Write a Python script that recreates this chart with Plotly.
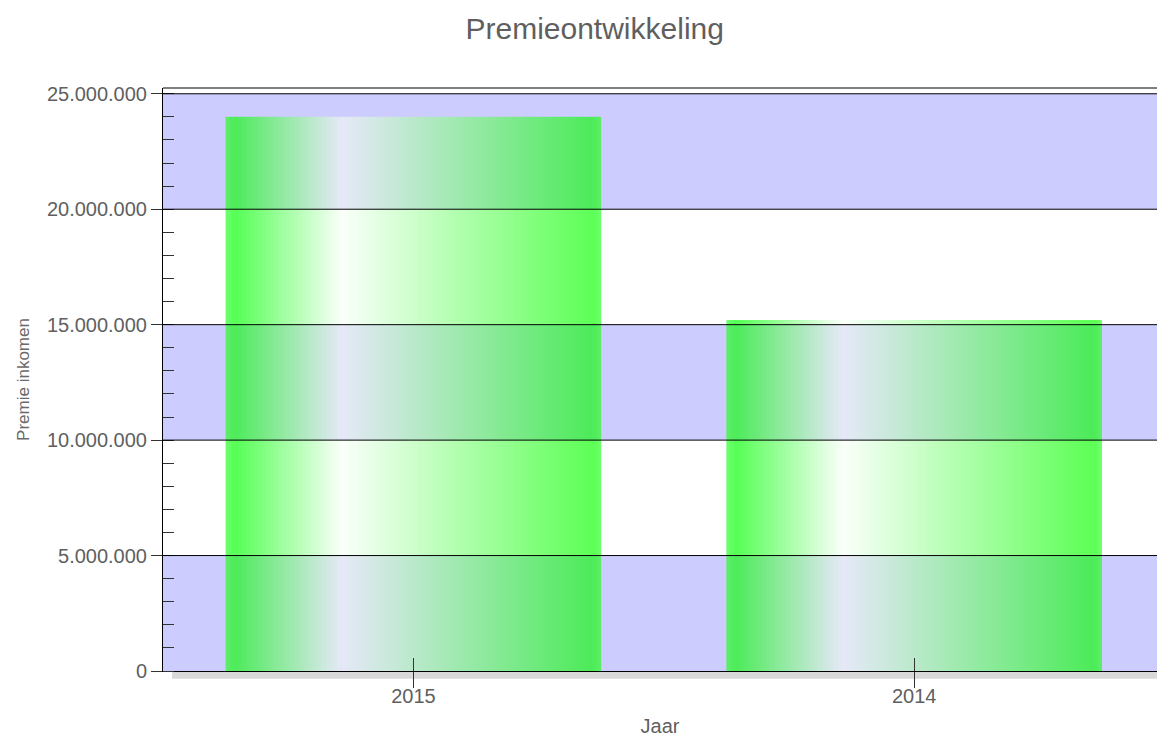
import plotly.graph_objects as go

# ---- data ----
years = ["2015", "2014"]
premie = [24000000, 15200000]
y_ticks = [0, 5000000, 10000000, 15000000, 20000000, 25000000]
y_tick_labels = ["0", "5.000.000", "10.000.000", "15.000.000", "20.000.000", "25.000.000"]

title_text = "Premieontwikkeling"
x_title = "Jaar"
y_title = "Premie inkomen"

# ---- style ----
FONT = "Liberation Sans, Arial, sans-serif"
TXT = "#5f5f5f"
BAND = "#ccccff"
Y_TOP = 25250000
BAR_W = 0.75
N_SLICES = 94
# gradient stops (position, r, g, b) as seen over a white band and over a blue band
stops_white = [(0.00, 110, 255, 110), (0.025, 85, 255, 85), (0.31, 250, 255, 250),
               (0.98, 92, 255, 85), (1.00, 110, 255, 110)]
stops_blue = [(0.00, 95, 238, 105), (0.025, 77, 235, 90), (0.31, 230, 232, 248),
              (0.98, 75, 235, 88), (1.00, 95, 238, 105)]


def grad(stops, t):
    for (p0, *c0), (p1, *c1) in zip(stops[:-1], stops[1:]):
        if p0 <= t <= p1:
            f = (t - p0) / (p1 - p0) if p1 > p0 else 0
            c = [a + (b - a) * f for a, b in zip(c0, c1)]
            return "rgb(%d,%d,%d)" % tuple(round(v) for v in c)
    return "rgb(77,235,90)"


# band segments for each bar (base, length, is_blue)
band_edges = y_ticks + [Y_TOP]
seg_x, seg_base, seg_len, seg_blue = [], [], [], []
for yr, v in zip(years, premie):
    for k, (lo, hi) in enumerate(zip(band_edges[:-1], band_edges[1:])):
        if lo < v:
            seg_x.append(yr)
            seg_base.append(lo)
            seg_len.append(min(v, hi) - lo)
            seg_blue.append(k % 2 == 0 and hi <= y_ticks[-1])

fig = go.Figure()
sw = BAR_W / N_SLICES
for i in range(N_SLICES):
    t = (i + 0.5) / N_SLICES
    cols = [grad(stops_blue if b else stops_white, t) for b in seg_blue]
    w = sw * 1.7 if i < N_SLICES - 1 else sw
    fig.add_trace(go.Bar(
        x=seg_x, y=seg_len, base=seg_base,
        width=w, offset=-BAR_W / 2 + i * sw,
        marker=dict(color=cols, line=dict(width=0)),
        showlegend=False, hoverinfo="skip",
    ))

# dummy trace for the overlay axis (inside tick marks)
fig.add_trace(go.Scatter(x=years, y=[None, None], xaxis="x2", showlegend=False,
                         hoverinfo="skip", mode="markers"))

shapes = []
# alternating bands
for k, (lo, hi) in enumerate(zip(y_ticks[:-1], y_ticks[1:])):
    if k % 2 == 0:
        shapes.append(dict(type="rect", xref="paper", yref="y", x0=0, x1=1, y0=lo, y1=hi,
                           fillcolor=BAND, line=dict(width=0), layer="below"))
# grid lines above bars
for v in y_ticks[1:]:
    shapes.append(dict(type="line", xref="paper", yref="y", x0=0, x1=1, y0=v, y1=v,
                       line=dict(color="black", width=1), layer="above"))
# top border
shapes.append(dict(type="line", xref="paper", yref="paper", x0=0, x1=1, y0=1, y1=1,
                   line=dict(color="black", width=1), layer="above"))
# shadow under x axis
shapes.append(dict(type="rect", xref="paper", yref="paper", x0=0.009, x1=1, y0=-0.0135, y1=-0.0015,
                   fillcolor="#d9d9d9", line=dict(width=0), layer="below"))

fig.update_layout(
    width=1157, height=737,
    margin=dict(l=163, r=0, t=88, b=66),
    paper_bgcolor="white", plot_bgcolor="white",
    barmode="overlay",
    title=dict(text=title_text, x=0.514, xref="container", xanchor="center",
               y=0.962, yref="container", yanchor="middle",
               font=dict(family=FONT, size=30, color=TXT)),
    font=dict(family=FONT, color=TXT),
    shapes=shapes,
    hovermode=False,
    xaxis=dict(type="category", range=[-0.5, 1.485], showgrid=False,
               showline=True, linecolor="black", linewidth=1,
               ticks="outside", ticklen=16, tickcolor="#333", tickwidth=1,
               ticklabelstandoff=-9,
               tickfont=dict(size=20, color=TXT, family=FONT),
               title=dict(text=x_title, font=dict(size=20, color=TXT, family=FONT), standoff=12),
               zeroline=False, fixedrange=True),
    xaxis2=dict(type="category", overlaying="x", matches="x", side="bottom",
                showgrid=False, showline=False, ticks="inside", ticklen=13,
                tickcolor="#333", showticklabels=False, zeroline=False),
    yaxis=dict(range=[0, Y_TOP], showgrid=False, zeroline=False,
               showline=True, linecolor="black", linewidth=1,
               tickvals=y_ticks, ticktext=y_tick_labels,
               ticks="outside", ticklen=11, tickcolor="#333",
               tickfont=dict(size=20, color=TXT, family=FONT),
               minor=dict(dtick=1000000, ticks="inside", ticklen=11, tickcolor="#333", showgrid=False),
               title=dict(text=y_title, font=dict(size=17, color="#6a6a6a", family=FONT), standoff=12),
               fixedrange=True),
)

fig.write_html("out.html", config={"displayModeBar": False},
               post_script="document.body.style.margin='0';")
